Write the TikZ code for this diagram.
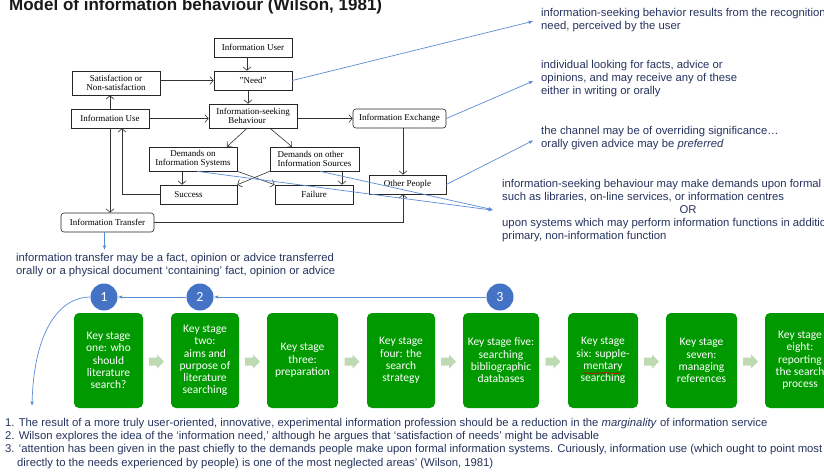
\documentclass[tikz,border=0pt]{standalone}
\usepackage{fontspec}
\setmainfont{Liberation Serif}
\newfontfamily\arialf{Liberation Sans}
\newfontfamily\calib{Carlito}
\usetikzlibrary{arrows.meta,decorations.pathmorphing}
\definecolor{navy}{RGB}{38,52,95}
\definecolor{lblue}{RGB}{91,140,214}
\definecolor{cblue}{RGB}{68,114,196}
\definecolor{kgreen}{RGB}{0,153,0}
\definecolor{chev}{RGB}{190,218,178}
\tikzset{
  box/.style={draw=black!85, line width=0.6pt, font=\fontsize{9}{9.5}\selectfont, inner sep=1pt, align=center},
  rbox/.style={box, rounded corners=3pt},
  arr/.style={draw=black!80, line width=0.6pt, -{Straight Barb[length=3.5pt,width=8pt]}},
  narr/.style={draw=lblue, line width=0.7pt, -{Latex[length=4.5pt,width=3.5pt]}},
  note/.style={font=\arialf\fontsize{11.3}{13}\selectfont, text=navy, align=left, inner sep=3pt, anchor=west},
  circ/.style={circle, fill=cblue, text=white, minimum size=27pt, inner sep=0pt, font=\calib\fontsize{14}{14}\selectfont},
  kbox/.style={rounded corners=5pt, fill=kgreen, text=white, minimum height=95pt, minimum width=70pt, align=center, font=\calib\fontsize{11.5}{12.3}\selectfont, inner sep=1pt},
  nline/.style={font=\arialf\fontsize{11.3}{13}\selectfont, text=navy, anchor=base west, inner sep=0pt}
}
\begin{document}
\begin{tikzpicture}[x=1pt,y=-1pt]
\useasboundingbox (0,0) rectangle (824,475);
\clip (0,0) rectangle (824,475);
\fill[white] (0,0) rectangle (824,475);

% title
\node[anchor=base west, font=\arialf\bfseries\fontsize{17}{17}\selectfont, inner sep=0pt, text=black!90] (title) at (9,10.5) {Model of information behaviour (Wilson, 1981)};

% Wilson model boxes
\node[box, minimum width=78pt, minimum height=19pt] (user) at (253,47.5) {Information User};
\node[box, minimum width=78pt, minimum height=19pt] (need) at (253,80.5) {"Need"};
\node[box, minimum width=88pt, minimum height=24pt] (satis) at (116,83) {Satisfaction or\\Non-satisfaction};
\node[box, minimum width=88pt, minimum height=24pt, align=left] (isb) at (253,116) {Information-seeking\\\hspace*{12pt}Behaviour};
\node[box, minimum width=78pt, minimum height=19pt] (use) at (110,118.5) {Information Use};
\node[rbox, minimum width=93pt, minimum height=19pt] (exch) at (399.5,118.5) {Information Exchange};
\node[box, minimum width=88pt, minimum height=24pt] (dis) at (193,159) {Demands on\\Information Systems};
\node[box, minimum width=89pt, minimum height=24pt, align=left] (dos) at (314.5,159) {Demands on other\\Information Sources};
\node[box, minimum width=77pt, minimum height=19pt] (succ) at (198.5,194.5) {Success\hspace*{20pt}};
\node[box, minimum width=78pt, minimum height=19pt] (fail) at (314,194.5) {Failure};
\node[box, minimum width=77pt, minimum height=19pt] (other) at (407.5,184.5) {Other People};
\node[rbox, minimum width=93pt, minimum height=19pt] (transfer) at (107.5,222.5) {Information Transfer};

% model connectors
\draw[arr] ([xshift=-6pt]user.south) -- ([xshift=-6pt]need.north);
\draw[arr] (satis.east |- need.west) -- (need.west);
\draw[arr] ([xshift=-5pt]need.south) -- ([xshift=-5pt]isb.north);
\draw[arr] (use.north) -- (use.north |- satis.south);
\draw[arr] (use.east) -- (isb.west |- use.east);
\draw[arr] (isb.east |- exch.west) -- (exch.west);
\draw[arr] ([xshift=-6pt]isb.south) -- ([xshift=34pt]dis.north);
\draw[arr] ([xshift=17pt]isb.south) -- ([xshift=-22.5pt]dos.north);
\draw[arr] ([xshift=-11pt]dis.south) -- ([xshift=-11pt]dis.south |- succ.north);
\draw[arr] (dis.south east) -- (fail.north west);
\draw[arr] (dos.south west) -- (succ.north east);
\draw[arr] ([xshift=27.5pt]dos.south) -- ([xshift=27.5pt]dos.south |- fail.north);
\draw[arr] (succ.west) -| ([xshift=12pt]use.south);
\draw[arr] (use.south) -- (use.south |- transfer.north);
\draw[arr] ([xshift=3.5pt]exch.south) -- ([xshift=3.5pt]exch.south |- other.north);
\draw[arr] (transfer.east) -| ([xshift=-4.5pt]other.south);

% annotation notes
\node[note] (note1) at (538,20) {information-seeking behavior results from the recognition\\need, perceived by the user};
\node[note] (note2) at (538,79) {individual looking for facts, advice or\\opinions, and may receive any of these\\either in writing or orally};
\node[note] (note3) at (538,138) {the channel may be of overriding significance…\\orally given advice may be \textit{preferred}};
\node[note] (note4) at (499,211) {information-seeking behaviour may make demands upon formal\\such as libraries, on-line services, or information centres\\\hspace*{177.5pt}OR\\upon systems which may perform information functions in addition\\primary, non-information function};
\node[note] (note5) at (13,265) {information transfer may be a fact, opinion or advice transferred\\orally or a physical document ‘containing’ fact, opinion or advice};

\draw[narr, shorten >=5pt] (need.east) -- (note1.west);
\draw[narr, shorten >=5pt] (exch.east) -- (note2.west);
\draw[narr, shorten >=5pt] (other.east) -- (note3.west);
\draw[narr, shorten >=6pt] ([xshift=4pt]dis.south) -- (note4.west);
\draw[narr, shorten >=6pt] ([xshift=5.5pt]dos.south) -- (note4.west);
\draw[narr] ([xshift=-3pt]transfer.south) -- ([xshift=-3pt]transfer.south |- note5.north);

% circles
\node[circ] (c1) at (104,297) {1};
\node[circ] (c2) at (200,297) {2};
\node[circ] (c3) at (500,297) {3};
\draw[narr] (c3.west) -- (c2.east);
\draw[narr] (c2.west) -- (c1.east);
\coordinate (cend) at (32,406);
\draw[narr] (c1.west) .. controls (60,297) and (34,330) .. (cend);

% key stage boxes
\node[kbox, minimum width=69pt] (k1) at (108.5,360.5) {Key stage\\one: who\\should\\literature\\search?};
\node[kbox, minimum width=68pt] (k2) at (205,360.5) {Key stage\\two:\\aims and\\purpose of\\literature\\searching};
\node[kbox, minimum width=71pt] (k3) at (302.5,360.5) {Key stage\\three:\\preparation};
\node[kbox, minimum width=68pt] (k4) at (401,360.5) {Key stage\\four: the\\search\\strategy};
\node[kbox, minimum width=76pt] (k5) at (501,360.5) {Key stage five:\\searching\\bibliographic\\databases};
\node[kbox, minimum width=70pt] (k6) at (603,360.5) {Key stage\\six: supple-\\mentary\\searching};
\node[kbox, minimum width=71pt] (k7) at (701.5,360.5) {Key stage\\seven:\\managing\\references};
\node[kbox, minimum width=70pt] (k8) at (800,360.5) {Key stage\\eight:\\reporting\\the search\\process};
% spell-check wavy underline under "mentary"
\draw[red!80!black, line width=0.4pt, decorate, decoration={snake, amplitude=0.6pt, segment length=2.2pt}]
  ([xshift=-19pt,yshift=-12.6pt]k6.center) -- ([xshift=19pt,yshift=-12.6pt]k6.center);

% chevrons
\foreach \cx in {157,253,352.5,449,553.5,652,751}
  \fill[chev] (\cx-8,357.5) -- (\cx,357.5) -- (\cx,354.5) -- (\cx+7,361.5) -- (\cx,368.5) -- (\cx,365.5) -- (\cx-8,365.5) -- cycle;

% bottom notes
\node[nline] (n1) at (5,426.2) {1. The result of a more truly user-oriented, innovative, experimental information profession should be a reduction in the \textit{marginality} of information service};
\node[nline] (n2) at (5,439.5) {2. Wilson explores the idea of the ‘information need,’ although he argues that ‘satisfaction of needs’ might be advisable};
\node[nline] (n3) at (5,452.8) {3. ‘attention has been given in the past chiefly to the demands people make upon formal information systems. Curiously, information use (which ought to point most};
\node[nline] (n4) at (17,466.2) {directly to the needs experienced by people) is one of the most neglected areas’ (Wilson, 1981)};
\end{tikzpicture}
\end{document}
